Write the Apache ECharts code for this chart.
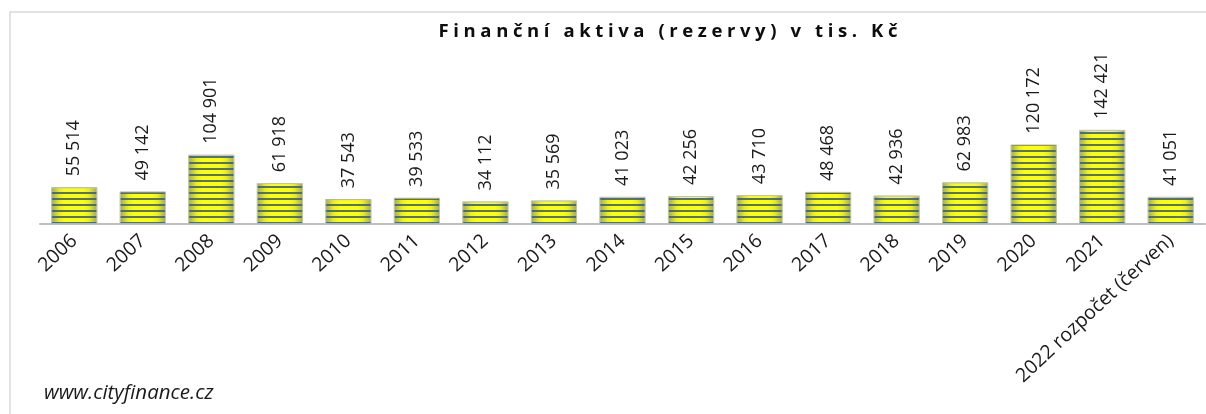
<!DOCTYPE html>
<html><head><meta charset="utf-8">
<script src="https://cdn.jsdelivr.net/npm/echarts@6/dist/echarts.min.js"></script>
<style>html,body{margin:0;padding:0;background:#fff}#c{width:1206px;height:414px}</style>
</head><body><div id="c"></div>
<script>
const titleText = 'Finanční aktiva (rezervy) v tis. Kč';
const sourceText = 'www.cityfinance.cz';
const categories = ['2006','2007','2008','2009','2010','2011','2012','2013','2014','2015','2016','2017','2018','2019','2020','2021','2022 rozpočet (červen)'];
const values = [55514,49142,104901,61918,37543,39533,34112,35569,41023,42256,43710,48468,42936,62983,120172,142421,41051];

function fmt(v){ return String(v).replace(/\B(?=(\d{3})+(?!\d))/g, ' '); }
const richTitle = titleText.split('').map(ch => '{c|' + ch + '}').join('');

const chart = echarts.init(document.getElementById('c'), null, {renderer:'canvas'});
chart.setOption({
  animation:false,
  backgroundColor:'#ffffff',
  title:{
    text: richTitle,
    left: 663, top: 17, textAlign:'center',
    textStyle:{ rich:{ c:{ fontFamily:'Open Sans', fontWeight:'bold', fontSize:18.5, color:'#0d0d0d', padding:[0,2.3,0,2.3] } } }
  },
  graphic:[
    {type:'rect', shape:{x:10, y:12, width:1400, height:600}, style:{fill:'none', stroke:'#d9d9d9', lineWidth:1.5}, silent:true},
    {type:'text', left:44, top:383, style:{text:sourceText, fontFamily:'Open Sans', fontStyle:'italic', fontSize:20.5, fill:'#1a1a1a'}}
  ],
  grid:{left:40, right:1, top:125, bottom:190, containLabel:false},
  xAxis:{
    type:'category', data:categories,
    axisLine:{lineStyle:{color:'#bfbfbf', width:2}},
    axisTick:{show:false},
    axisLabel:{interval:0, rotate:43, margin:14, fontFamily:'Open Sans', fontSize:19.5, color:'#1a1a1a'}
  },
  yAxis:{type:'value', min:0, max:150000, show:false, splitLine:{show:false}},
  series:[{
    type:'bar', data:values, barWidth:46,
    itemStyle:{
      color:{type:'linear', x:0, y:0, x2:1, y2:0, colorStops:[
        {offset:0, color:'#9ea956'},{offset:0.18, color:'#efef10'},{offset:0.3, color:'#ffff00'},
        {offset:0.7, color:'#ffff00'},{offset:0.82, color:'#efef10'},{offset:1, color:'#9ea956'}]},
      borderColor:'#c3c79a', borderWidth:0.8,
      decal:{symbol:'rect', symbolSize:1, dashArrayX:[10,0], dashArrayY:[1.3,3.9], rotation:0, color:'rgba(50,90,150,0.85)'}
    },
    label:{show:true, position:'top', rotate:90, align:'left', verticalAlign:'middle', distance:11,
      fontFamily:'Open Sans', fontSize:18, color:'#1a1a1a', formatter:p => fmt(p.value)}
  }]
});
</script></body></html>
